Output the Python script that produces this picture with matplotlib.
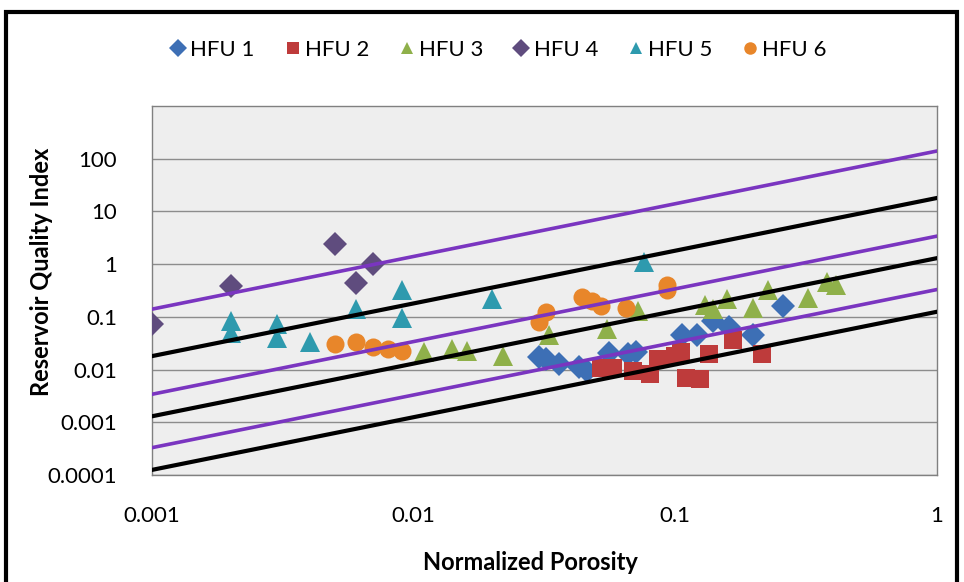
import numpy as np
import matplotlib
matplotlib.use("Agg")
import matplotlib.pyplot as plt
from matplotlib.patches import Rectangle

plt.rcParams['font.family'] = ['Lato', 'DejaVu Sans']

# normalized porosity (x) / reservoir quality index (y) per unit
hfu1_x = [0.030, 0.032, 0.036, 0.043, 0.046, 0.056, 0.066, 0.071, 0.106, 0.121, 0.139, 0.161, 0.198, 0.258]
hfu1_y = [0.017, 0.016, 0.0125, 0.011, 0.0095, 0.021, 0.020, 0.022, 0.046, 0.046, 0.082, 0.065, 0.046, 0.16]

hfu2_x = [0.052, 0.058, 0.069, 0.080, 0.086, 0.100, 0.105, 0.110, 0.124, 0.135, 0.166, 0.214]
hfu2_y = [0.0105, 0.0105, 0.0093, 0.0082, 0.016, 0.018, 0.022, 0.0068, 0.0066, 0.020, 0.036, 0.020]

hfu3_x = [0.011, 0.014, 0.016, 0.022, 0.033, 0.055, 0.072, 0.130, 0.139, 0.158, 0.198, 0.226, 0.321, 0.380, 0.410]
hfu3_y = [0.022, 0.025, 0.023, 0.018, 0.045, 0.058, 0.13, 0.17, 0.14, 0.22, 0.15, 0.33, 0.23, 0.45, 0.40]

hfu4_x = [0.001, 0.002, 0.005, 0.006, 0.007]
hfu4_y = [0.072, 0.38, 2.4, 0.43, 1.0]

hfu5_x = [0.002, 0.002, 0.003, 0.003, 0.004, 0.006, 0.009, 0.009, 0.020, 0.076]
hfu5_y = [0.085, 0.05, 0.072, 0.04, 0.034, 0.14, 0.32, 0.095, 0.22, 1.1]

hfu6_x = [0.005, 0.006, 0.007, 0.008, 0.009, 0.030, 0.032, 0.044, 0.048, 0.052, 0.065, 0.093, 0.093]
hfu6_y = [0.030, 0.034, 0.027, 0.025, 0.023, 0.080, 0.125, 0.24, 0.20, 0.16, 0.15, 0.40, 0.32]

# FZI boundary lines, value at porosity 0.001 and at 1
line_x = [0.001, 1.0]
purple_lines = [[0.14, 140], [0.0034, 3.4], [0.00033, 0.33]]
black_lines = [[0.018, 18], [0.0013, 1.3], [0.000125, 0.125]]

y_ticks = [0.0001, 0.001, 0.01, 0.1, 1, 10, 100]
y_labels = ['0.0001', '0.001', '0.01', '0.1', '1', '10', '100']
x_ticks = [0.001, 0.01, 0.1, 1]
x_labels = ['0.001', '0.01', '0.1', '1']

fig = plt.figure(figsize=(9.64, 5.82), dpi=100)
ax = fig.add_axes([152 / 964, 1 - 475 / 582, 785 / 964, 369 / 582])
ax.set_facecolor('#EEEEEE')

series = [
    (hfu1_x, hfu1_y, 'D', '#3D6FB5', 12, 'HFU 1'),
    (hfu2_x, hfu2_y, 's', '#BE3B3B', 13, 'HFU 2'),
    (hfu3_x, hfu3_y, '^', '#8FB04A', 14, 'HFU 3'),
    (hfu4_x, hfu4_y, 'D', '#5F4C7E', 12, 'HFU 4'),
    (hfu5_x, hfu5_y, '^', '#2E9AAE', 14, 'HFU 5'),
    (hfu6_x, hfu6_y, 'o', '#E8862A', 13, 'HFU 6'),
]
handles = []
for xs, ys, m, c, ms, lab in series:
    h, = ax.plot(xs, ys, linestyle='none', marker=m, color=c, markersize=ms,
                 markeredgewidth=0, label=lab, zorder=3)
    handles.append(h)

for vals in purple_lines:
    ax.plot(line_x, vals, color='#7A35C0', lw=2.6, zorder=4)
for vals in black_lines:
    ax.plot(line_x, vals, color='black', lw=3.0, zorder=4)

ax.set_xscale('log')
ax.set_yscale('log')
ax.set_xlim(0.001, 1)
ax.set_ylim(0.0001, 1000)
ax.set_yticks(y_ticks)
ax.set_yticklabels(y_labels)
ax.set_xticks(x_ticks)
ax.set_xticklabels(x_labels)
ax.minorticks_off()
ax.tick_params(axis='both', length=0, labelsize=16, colors='black')
ax.tick_params(axis='x', pad=22)
ax.tick_params(axis='y', pad=25)
ax.grid(axis='y', color='#8C8C8C', lw=1)
ax.set_axisbelow(True)
for s in ax.spines.values():
    s.set_color('#808080')
    s.set_linewidth(1)

fig.text(42 / 964, 1 - 272 / 582, 'Reservoir Quality Index', fontsize=17,
         fontweight='bold', rotation=90, ha='center', va='center')
fig.text(530 / 964, 1 - 563 / 582, 'Normalized Porosity', fontsize=17,
         fontweight='bold', ha='center', va='center')

leg_handles = [plt.Line2D([], [], linestyle='none', marker=h.get_marker(), color=h.get_color(),
                          markersize=9, markeredgewidth=0) for h in handles]
fig.legend(leg_handles, [h.get_label() for h in handles], loc='center',
           bbox_to_anchor=(497 / 964, 1 - 50 / 582), ncol=6, frameon=False,
           fontsize=16, handletextpad=0.05, columnspacing=1.2, handlelength=1)

fig.patches.append(Rectangle((6 / 964, -0.1), 951 / 964, 1.1 - 12 / 582,
                             transform=fig.transFigure, fill=False,
                             edgecolor='black', lw=3))

fig.savefig('out.png', dpi=100)
